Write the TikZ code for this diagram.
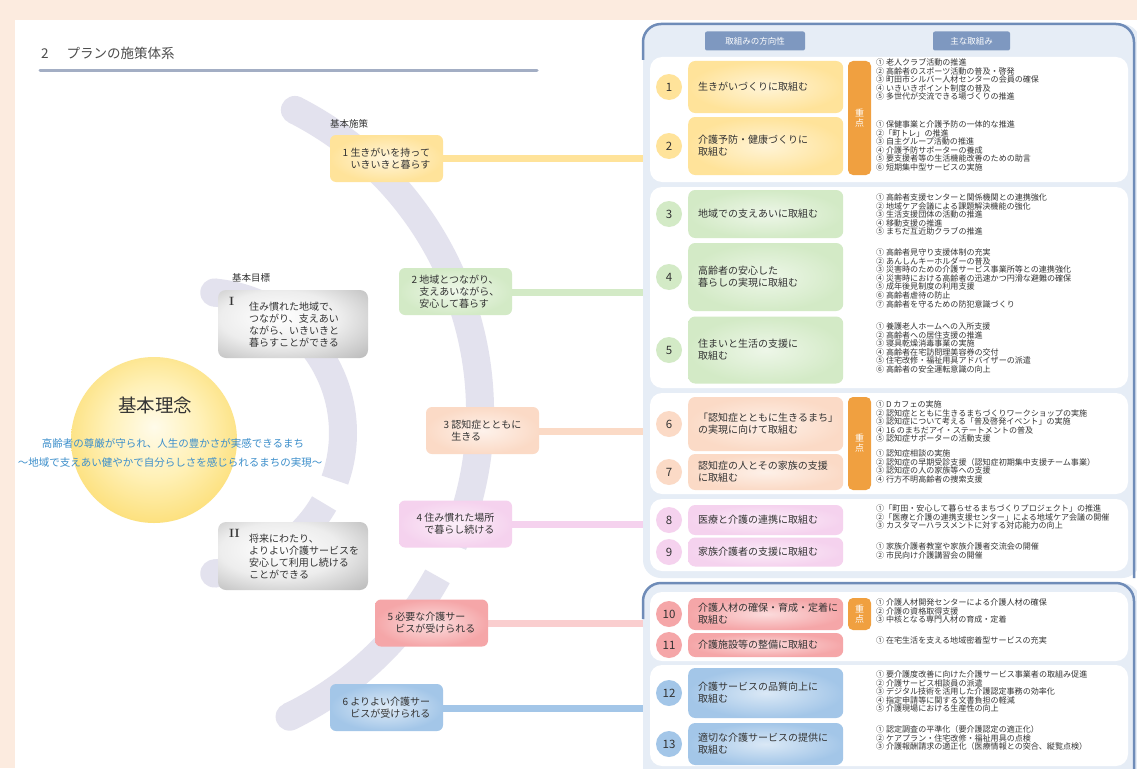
\documentclass[tikz,border=0pt]{standalone}
\usepackage{fontspec}
\setmainfont{Noto Sans CJK JP}
\usetikzlibrary{calc}
\definecolor{peachbg}{HTML}{FCEBDF}
\definecolor{arcc}{HTML}{E3E2EE}
\definecolor{grpbg}{HTML}{E6EDF6}
\definecolor{grpline}{HTML}{6F8CB8}
\definecolor{hdr}{HTML}{7E98C0}
\definecolor{uline}{HTML}{A3AEC4}
\definecolor{cyel}{HTML}{FFE39A}
\definecolor{cgrn}{HTML}{D3EAC6}
\definecolor{cpea}{HTML}{FBDAC6}
\definecolor{cpnk}{HTML}{F5D2EE}
\definecolor{cred}{HTML}{F5A6A8}
\definecolor{cblu}{HTML}{A3C6E8}
\definecolor{corg}{HTML}{F0A040}
\definecolor{ctxt}{HTML}{333333}
\definecolor{cblue}{HTML}{3D8FCB}
\definecolor{sunA}{HTML}{FFFBEA}
\definecolor{sunB}{HTML}{FFF1B8}
\definecolor{sunC}{HTML}{FBD860}
\definecolor{sunD}{HTML}{F4BA1E}
\pgfdeclareradialshading{sunshade}{\pgfpoint{0bp}{4bp}}{color(0bp)=(sunA); color(14bp)=(sunB); color(34bp)=(sunC); color(50bp)=(sunD); color(60bp)=(sunD)}
\pgfdeclareradialshading{grayshade}{\pgfpoint{-6bp}{6bp}}{color(0bp)=(white); color(20bp)=(black!7); color(42bp)=(black!30); color(58bp)=(black!45); color(75bp)=(black!50)}
\newcommand\fsA{\fontsize{10}{11.8}\selectfont}
\newcommand\fsI{\fontsize{8.05}{8.6}\selectfont}
\begin{document}
\begin{tikzpicture}[x=1pt,y=-1pt,
  arcband/.style={line width=28pt, draw=arcc},
  pol/.style={rounded corners=6pt, minimum width=113pt, minimum height=47pt, align=left, font=\fsA, text=ctxt, inner color=#1!35!white, outer color=#1},
  goal/.style={rounded corners=8pt, minimum width=150pt, minimum height=68pt, shading=grayshade, text=ctxt, font=\fsA, align=left},
  rowbox/.style={rounded corners=7pt, minimum width=155pt, text width=135pt, inner xsep=10pt, inner ysep=0pt, anchor=west, align=left, font=\fsA, text=ctxt, inner color=#1!40!white, outer color=#1},
  numc/.style={circle, minimum size=26pt, inner sep=0pt, fill=#1, font=\fontsize{11.5}{11.5}\selectfont, text=ctxt},
  items/.style={anchor=north west, inner sep=0pt, align=left, font=\fsI, text=ctxt},
  link/.style={line width=7pt, draw=#1},
  panel/.style={fill=white, rounded corners=12pt},
  jyu/.style={fill=corg, rounded corners=5pt, minimum width=23pt, text=white, font=\fontsize{9}{10}\selectfont, align=center, inner sep=0pt},
  hbox/.style={fill=hdr, rounded corners=2pt, text=white, font=\fontsize{8.5}{9}\selectfont, minimum height=19pt, inner sep=0pt},
  lbl/.style={anchor=west, inner sep=0pt, font=\fontsize{9.5}{10}\selectfont, text=ctxt}
]
\useasboundingbox (0,0) rectangle (1137,768);
\fill[peachbg] (0,0) rectangle (1137,768);
\fill[white] (15,20) rectangle (1137,768);

% title
\node[anchor=west, font=\fontsize{13.5}{13.5}\selectfont, text=black!70, inner sep=0pt] (title) at (41,53) {2\hspace{18pt}プランの施策体系};
\draw[line width=3pt, draw=uline, line cap=round] (40,70) -- (537,70);

% arcs (outer)
\coordinate (oc) at (141,412);
\coordinate (ic) at (202,433);
\draw[arcband] ($(oc)+(-63:339)$) arc[start angle=-63, end angle=23, radius=339];
\draw[arcband] ($(oc)+(29:339)$) arc[start angle=29, end angle=64, radius=339];
\fill[arcc] ($(oc)+(-63:339)$) circle (14);
\fill[arcc] ($(oc)+(64:339)$) circle (14);
% arcs (inner)
\draw[arcband] ($(ic)+(-85:141)$) arc[start angle=-85, end angle=19.5, radius=141];
\draw[arcband] ($(ic)+(30:141)$) arc[start angle=30, end angle=85, radius=141];
\fill[arcc] ($(ic)+(-85:141)$) circle (14);
\fill[arcc] ($(ic)+(85:141)$) circle (14);

% groups
\fill[grpbg, rounded corners=18pt] (643,24) rectangle (1140,578);
\draw[grpline, line width=2.5pt, rounded corners=18pt] (643,60) |- (1134,24) -- (1134,578);
\fill[grpbg, rounded corners=18pt] (643,583) rectangle (1140,790);
\draw[grpline, line width=2.5pt, rounded corners=18pt] (643,619) |- (1134,583) -- (1134,790);

\node[hbox, minimum width=100pt] (h1) at (755,41) {取組みの方向性};
\node[hbox, minimum width=77pt] (h2) at (971.5,41) {主な取組み};

\fill[panel] (650,57) rectangle (1128,182);
\fill[panel] (650,187) rectangle (1128,388);
\fill[panel] (650,393) rectangle (1128,494);
\fill[panel] (650,499) rectangle (1128,571);
\fill[panel] (650,592) rectangle (1128,661);
\fill[panel] (650,665) rectangle (1128,766);

% central circle
\shade[shading=sunshade] (154,440) circle (83);
\node[font=\fontsize{18.5}{19}\selectfont, text=ctxt, inner sep=0pt] (rinen) at (155,405) {基本理念};
\node[font=\fontsize{10.5}{11}\selectfont, text=cblue, inner sep=0pt] (rinen1) at (173,443) {高齢者の尊厳が守られ、人生の豊かさが実感できるまち};
\node[font=\fontsize{10.5}{11}\selectfont, text=cblue, inner sep=0pt] (rinen2) at (170,463) {～地域で支えあい健やかで自分らしさを感じられるまちの実現～};

% goals
\node[lbl] (lg) at (232,278) {基本目標};
\node[goal] (g1) at (293,324) {};
\node[anchor=north west, inner sep=0pt, font=\bfseries\fontspec{Latin Modern Roman}\fontsize{12}{12}\selectfont, text=ctxt] at (229,297) {I};
\node[anchor=north west, inner sep=0pt, align=left, font=\fsA, text=ctxt] at (249,302) {住み慣れた地域で、\\つながり、支えあい\\ながら、いきいきと\\暮らすことができる};
\node[goal] (g2) at (293,556) {};
\node[anchor=north west, inner sep=0pt, font=\bfseries\fontspec{Latin Modern Roman}\fontsize{12}{12}\selectfont, text=ctxt] at (229,529) {II};
\node[anchor=north west, inner sep=0pt, align=left, font=\fsA, text=ctxt] at (249,534) {将来にわたり、\\よりよい介護サービスを\\安心して利用し続ける\\ことができる};

% policies
\node[lbl] (ls) at (330,124) {基本施策};
\draw[link=cyel] (443,158) -- (643,158);
\draw[link=cgrn] (512,292) -- (643,292);
\draw[link=cpea] (538,431) -- (643,431);
\draw[link=cpnk] (511,524) -- (643,524);
\draw[link=cred!55!white] (487,623) -- (643,623);
\draw[link=cblu] (442,708) -- (643,708);
\node[pol=cyel] (p1) at (386.5,158.5) {1\ 生きがいを持って\\\hphantom{1\ }いきいきと暮らす};
\node[pol=cgrn] (p2) at (455.5,291.5) {2\ 地域とつながり、\\\hphantom{2\ }支えあいながら、\\\hphantom{2\ }安心して暮らす};
\node[pol=cpea] (p3) at (482.5,430.5) {3\ 認知症とともに\\\hphantom{3\ }生きる};
\node[pol=cpnk] (p4) at (455.5,524) {4\ 住み慣れた場所\\\hphantom{4\ }で暮らし続ける};
\node[pol=cred] (p5) at (431.5,623) {5\ 必要な介護サー\\\hphantom{5\ }ビスが受けられる};
\node[pol=cblu] (p6) at (386.5,707.5) {6\ よりよい介護サー\\\hphantom{6\ }ビスが受けられる};

% rows
\node[rowbox=cyel, minimum height=52pt] (r1) at (688,87) {生きがいづくりに取組む};
\node[rowbox=cyel, minimum height=58pt] (r2) at (688,146) {介護予防・健康づくりに\\取組む};
\node[rowbox=cgrn, minimum height=48pt] (r3) at (688,214) {地域での支えあいに取組む};
\node[rowbox=cgrn, minimum height=68pt] (r4) at (688,277) {高齢者の安心した\\暮らしの実現に取組む};
\node[rowbox=cgrn, minimum height=67pt] (r5) at (688,350) {住まいと生活の支援に\\取組む};
\node[rowbox=cpea, minimum height=54pt] (r6) at (688,424) {「認知症とともに生きるまち」\\の実現に向けて取組む};
\node[rowbox=cpea, minimum height=36pt] (r7) at (688,472) {認知症の人とその家族の支援\\に取組む};
\node[rowbox=cpnk, minimum height=30pt] (r8) at (688,520) {医療と介護の連携に取組む};
\node[rowbox=cpnk, minimum height=29pt] (r9) at (688,552) {家族介護者の支援に取組む};
\node[rowbox=cred, minimum height=32pt] (r10) at (688,614) {介護人材の確保・育成・定着に\\取組む};
\node[rowbox=cred, minimum height=24pt] (r11) at (688,645) {介護施設等の整備に取組む};
\node[rowbox=cblu, minimum height=50pt] (r12) at (688,693) {介護サービスの品質向上に\\取組む};
\node[rowbox=cblu, minimum height=42pt] (r13) at (688,744) {適切な介護サービスの提供に\\取組む};

\node[numc=cyel] (n1) at (669,87) {1};
\node[numc=cyel] (n2) at (669,146) {2};
\node[numc=cgrn] (n3) at (669,214) {3};
\node[numc=cgrn] (n4) at (669,277) {4};
\node[numc=cgrn] (n5) at (669,350) {5};
\node[numc=cpea] (n6) at (669,424) {6};
\node[numc=cpea] (n7) at (669,472) {7};
\node[numc=cpnk] (n8) at (669,520) {8};
\node[numc=cpnk] (n9) at (669,552) {9};
\node[numc=cred] (n10) at (669,614) {10};
\node[numc=cred] (n11) at (669,645) {11};
\node[numc=cblu] (n12) at (669,693) {12};
\node[numc=cblu] (n13) at (669,744) {13};

% juten bars
\node[jyu, minimum height=114pt] (j1) at (859.5,118) {重\\点};
\node[jyu, minimum height=93pt] (j2) at (859.5,443.5) {重\\点};
\node[jyu, minimum height=32pt] (j3) at (859.5,614) {重\\点};

% items
\node[items] (i1) at (876,58.5) {① 老人クラブ活動の推進\\② 高齢者のスポーツ活動の普及・啓発\\③ 町田市シルバー人材センターの会員の確保\\④ いきいきポイント制度の普及\\⑤ 多世代が交流できる場づくりの推進};
\node[items] (i2) at (876,120.5) {① 保健事業と介護予防の一体的な推進\\②「町トレ」の推進\\③ 自主グループ活動の推進\\④ 介護予防サポーターの養成\\⑤ 要支援者等の生活機能改善のための助言\\⑥ 短期集中型サービスの実施};
\node[items] (i3) at (876,193.5) {① 高齢者支援センターと関係機関との連携強化\\② 地域ケア会議による課題解決機能の強化\\③ 生活支援団体の活動の推進\\④ 移動支援の推進\\⑤ まちだ互近助クラブの推進};
\node[items] (i4) at (876,248.5) {① 高齢者見守り支援体制の充実\\② あんしんキーホルダーの普及\\③ 災害時のための介護サービス事業所等との連携強化\\④ 災害時における高齢者の迅速かつ円滑な避難の確保\\⑤ 成年後見制度の利用支援\\⑥ 高齢者虐待の防止\\⑦ 高齢者を守るための防犯意識づくり};
\node[items] (i5) at (876,322.5) {① 養護老人ホームへの入所支援\\② 高齢者への居住支援の推進\\③ 寝具乾燥消毒事業の実施\\④ 高齢者在宅訪問理美容券の交付\\⑤ 住宅改修・福祉用具アドバイザーの派遣\\⑥ 高齢者の安全運転意識の向上};
\node[items] (i6) at (876,400.5) {① D カフェの実施\\② 認知症とともに生きるまちづくりワークショップの実施\\③ 認知症について考える「普及啓発イベント」の実施\\④ 16 のまちだアイ・ステートメントの普及\\⑤ 認知症サポーターの活動支援};
\node[items] (i7) at (876,449.5) {① 認知症相談の実施\\② 認知症の早期受診支援（認知症初期集中支援チーム事業）\\③ 認知症の人の家族等への支援\\④ 行方不明高齢者の捜索支援};
\node[items] (i8) at (876,504.5) {①「町田・安心して暮らせるまちづくりプロジェクト」の推進\\②「医療と介護の連携支援センター」による地域ケア会議の開催\\③ カスタマーハラスメントに対する対応能力の向上};
\node[items] (i9) at (876,542.5) {① 家族介護者教室や家族介護者交流会の開催\\② 市民向け介護講習会の開催};
\node[items] (i10) at (876,598.5) {① 介護人材開発センターによる介護人材の確保\\② 介護の資格取得支援\\③ 中核となる専門人材の育成・定着};
\node[items] (i11) at (876,636.5) {① 在宅生活を支える地域密着型サービスの充実};
\node[items] (i12) at (876,670.5) {① 要介護度改善に向けた介護サービス事業者の取組み促進\\② 介護サービス相談員の派遣\\③ デジタル技術を活用した介護認定事務の効率化\\④ 指定申請等に関する文書負担の軽減\\⑤ 介護現場における生産性の向上};
\node[items] (i13) at (876,725.5) {① 認定調査の平準化（要介護認定の適正化）\\② ケアプラン・住宅改修・福祉用具の点検\\③ 介護報酬請求の適正化（医療情報との突合、縦覧点検）};
\end{tikzpicture}
\end{document}
